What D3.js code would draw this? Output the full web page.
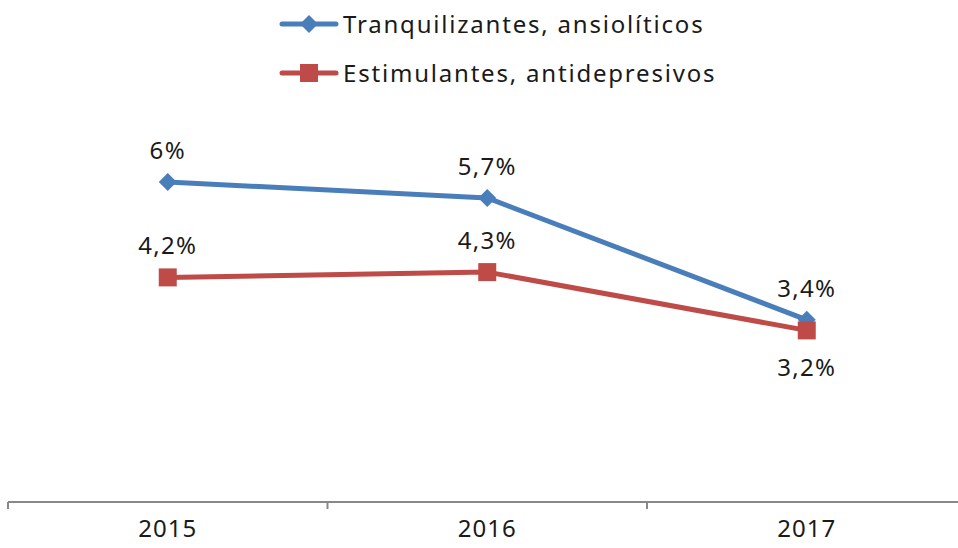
<!doctype html>
<html>
<head>
<meta charset="utf-8">
<style>
  body { margin:0; background:#fff; }
  svg { display:block; font-family:"Noto Sans", sans-serif; }
  .lbl { font-size:24px; fill:#1a1a1a; letter-spacing:1.3px; }
  .leg { font-size:24px; fill:#1a1a1a; letter-spacing:1.8px; }
  .axis text { font-size:24px; fill:#1a1a1a; letter-spacing:1px; }
</style>
<script src="https://cdn.jsdelivr.net/npm/d3@7"></script>
</head>
<body>
<svg id="chart" width="958" height="548"></svg>
<script>
// data
var years = ["2015", "2016", "2017"]
var seriesNames = ["Tranquilizantes, ansiolíticos", "Estimulantes, antidepresivos"]
var tranq = [6, 5.7, 3.4]
var estim = [4.2, 4.3, 3.2]
var colors = ["#4a7ebb", "#be4b48"]

var svg = d3.select("#chart")

var x = d3.scaleBand().domain(years).range([8, 966.5]).padding(0)
var y = d3.scaleLinear().domain([0, 6]).range([500, 182])

// x axis: line + ticks at category boundaries
var axisY = 502
svg.append("line")
   .attr("x1", 8).attr("x2", 958)
   .attr("y1", axisY).attr("y2", axisY)
   .attr("stroke", "#888").attr("stroke-width", 2)

svg.selectAll(".tk")
   .data(years)
   .enter().append("line")
   .attr("x1", function(d){ return x(d) })
   .attr("x2", function(d){ return x(d) })
   .attr("y1", axisY).attr("y2", axisY + 7)
   .attr("stroke", "#888").attr("stroke-width", 2)

var ax = svg.append("g")
   .attr("class", "axis")
   .attr("transform", "translate(0," + axisY + ")")
   .call(d3.axisBottom(x).tickSize(0).tickPadding(18))
ax.select(".domain").remove()
ax.selectAll("text").attr("font-family", "Noto Sans")

var line = d3.line()
   .x(function(d, i){ return x(years[i]) + x.bandwidth() / 2 })
   .y(function(d){ return y(d) })

var data = [tranq, estim]

data.forEach(function(vals, s) {
  svg.append("path")
     .datum(vals)
     .attr("d", line)
     .attr("fill", "none")
     .attr("stroke", colors[s])
     .attr("stroke-width", 5)
     .attr("stroke-linejoin", "round")
})

// markers
var cx = function(d, i){ return x(years[i]) + x.bandwidth() / 2 }
var diamond = "M0,-9L9,0L0,9L-9,0Z"

svg.selectAll(".dia")
   .data(tranq)
   .enter().append("path")
   .attr("d", diamond)
   .attr("transform", function(d, i){ return "translate(" + cx(d, i) + "," + y(d) + ")" })
   .attr("fill", colors[0])

svg.selectAll(".sq")
   .data(estim)
   .enter().append("rect")
   .attr("x", function(d, i){ return cx(d, i) - 9 })
   .attr("y", function(d){ return y(d) - 9 })
   .attr("width", 18).attr("height", 18)
   .attr("fill", colors[1])

// data labels
function fmt(v){ return String(v).replace(".", ",") + "%" }

svg.selectAll(".l1")
   .data(tranq)
   .enter().append("text")
   .attr("class", "lbl")
   .attr("text-anchor", "middle")
   .attr("x", cx)
   .attr("y", function(d){ return y(d) - 23 })
   .text(fmt)

svg.selectAll(".l2")
   .data(estim)
   .enter().append("text")
   .attr("class", "lbl")
   .attr("text-anchor", "middle")
   .attr("x", cx)
   .attr("y", function(d, i){ return i == 2 ? y(d) + 46 : y(d) - 23 })
   .text(fmt)

// legend
var leg = svg.append("g")
seriesNames.forEach(function(name, s) {
  var ly = 24 + s * 49
  leg.append("line")
     .attr("x1", 282).attr("x2", 336)
     .attr("y1", ly).attr("y2", ly)
     .attr("stroke", colors[s]).attr("stroke-width", 5)
     .attr("stroke-linecap", "round")
  if (s == 0) {
    leg.append("path")
       .attr("d", diamond)
       .attr("transform", "translate(309," + ly + ")")
       .attr("fill", colors[0])
  } else {
    leg.append("rect")
       .attr("x", 300).attr("y", ly - 9)
       .attr("width", 18).attr("height", 18)
       .attr("fill", colors[1])
  }
  leg.append("text")
     .attr("class", "leg")
     .attr("x", 343).attr("y", ly + 9)
     .text(name)
})
</script>
</body>
</html>
